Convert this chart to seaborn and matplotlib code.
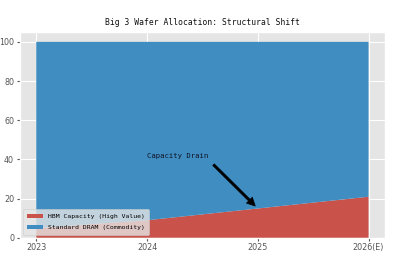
import matplotlib
matplotlib.use("Agg")
import matplotlib.pyplot as plt
import seaborn as sns
import numpy as np

years = [2023, 2024, 2025, 2026]
year_labels = ["2023", "2024", "2025", "2026(E)"]
hbm = [5, 9, 15, 21]
standard = [95, 91, 85, 79]

plt.style.use("ggplot")
red = "#C9524A"
blue = "#3F8DC1"
sns.set_palette([red, blue])

fig = plt.figure(figsize=(3.93, 2.67), dpi=100)
ax = fig.add_axes([0.05, 0.109, 0.93, 0.771])

ax.stackplot(years, hbm, standard,
             labels=["HBM Capacity (High Value)", "Standard DRAM (Commodity)"],
             colors=[red, blue], alpha=1.0)

mono = "DejaVu Sans Mono"
ax.set_title("Big 3 Wafer Allocation: Structural Shift", fontsize=5.8, family=mono,
             color="#111111", pad=5)
ax.set_xticks(years)
ax.set_xticklabels(year_labels)
ax.tick_params(labelsize=5.8, length=2, pad=2)
ax.set_yticks([0, 20, 40, 60, 80, 100])

ax.annotate("Capacity Drain", xy=(2025, 15), xytext=(2024, 40),
            fontsize=5.2, family=mono, color="#111122",
            ha="left", va="bottom",
            arrowprops=dict(facecolor="black", edgecolor="black", shrink=0.05,
                            width=1.6, headwidth=6, headlength=6))

leg = ax.legend(loc="lower left", prop={"family": mono, "size": 4.6},
                frameon=True, borderpad=0.7, handlelength=2.4, labelspacing=0.85)

fig.savefig("out.png", dpi=100)
